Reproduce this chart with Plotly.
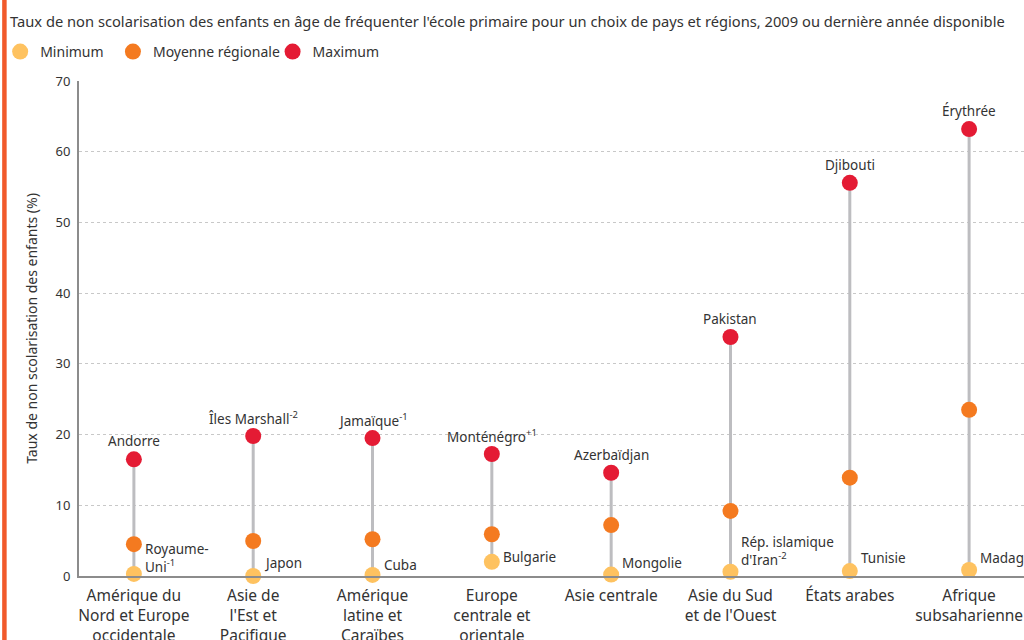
import plotly.graph_objects as go

categories = [
    "Amérique du<br>Nord et Europe<br>occidentale",
    "Asie de<br>l'Est et<br>Pacifique",
    "Amérique<br>latine et<br>Caraïbes",
    "Europe<br>centrale et<br>orientale",
    "Asie centrale",
    "Asie du Sud<br>et de l'Ouest",
    "États arabes",
    "Afrique<br>subsaharienne",
]
minimum = [0.3, 0.0, 0.15, 2.0, 0.2, 0.6, 0.7, 0.85]
moyenne = [4.5, 4.95, 5.2, 5.9, 7.2, 9.2, 13.9, 23.5]
maximum = [16.5, 19.8, 19.5, 17.25, 14.6, 33.8, 55.6, 63.2]
max_labels = ["Andorre", "Îles Marshall<sup>-2</sup>", "Jamaïque<sup>-1</sup>",
              "Monténégro<sup>+1</sup>", "Azerbaïdjan", "Pakistan", "Djibouti", "Érythrée"]
min_labels = ["Royaume-<br>Uni<sup>-1</sup>", "Japon", "Cuba", "Bulgarie", "Mongolie",
              "Rép. islamique<br>d'Iran<sup>-2</sup>", "Tunisie", "Madagascar"]
y_ticks = [0, 10, 20, 30, 40, 50, 60, 70]

FONT = "Noto Sans"
TXT = "#333333"
C_MIN = "#FEC260"
C_MEAN = "#F47A20"
C_MAX = "#E41B34"

W, H = 1024, 640
ML, MR, MT, MB = 77, 0, 81, 64
PW = W - ML - MR
PH = H - MT - MB

# pixel offsets of the minimum labels (layout only)
min_label_dy = [16, 13, 10, 5, 12, 21, 13, 12]
# legend left positions in pixels (layout only)
legend_px = [-2, 111, 271]

fig = go.Figure()

# connecting stems
lx, ly = [], []
for c, lo, hi in zip(categories, minimum, maximum):
    lx += [c, c, None]
    ly += [lo, hi, None]
fig.add_trace(go.Scatter(x=lx, y=ly, mode="lines", line=dict(color="#BDBDC0", width=3),
                         showlegend=False, hoverinfo="skip", cliponaxis=False))

series = [("Minimum", minimum, C_MIN), ("Moyenne régionale", moyenne, C_MEAN),
          ("Maximum", maximum, C_MAX)]
for i, (name, vals, col) in enumerate(series):
    fig.add_trace(go.Scatter(x=categories, y=vals, mode="markers", name=name,
                             legend="legend" if i == 0 else f"legend{i + 1}",
                             marker=dict(color=col, size=16, line=dict(width=0)),
                             cliponaxis=False))

# labels above maxima
for c, v, t in zip(categories, maximum, max_labels):
    fig.add_annotation(x=c, y=v, text=t, showarrow=False, xanchor="center", yanchor="middle",
                       yshift=18, font=dict(family=FONT, size=13.5, color=TXT))
# labels to the right of minima
for c, v, t, dy in zip(categories, minimum, min_labels, min_label_dy):
    fig.add_annotation(x=c, y=v, text=t, showarrow=False, xanchor="left", yanchor="middle",
                       align="left", xshift=9, yshift=dy,
                       font=dict(family=FONT, size=13.5, color=TXT))

# orange strip on the left edge
fig.add_shape(type="rect", xref="paper", yref="paper",
              x0=-ML / PW, x1=-(ML - 4.5) / PW, y0=-MB / PH - 0.01, y1=1 + MT / PH + 0.01,
              fillcolor="#F15A2B", line=dict(width=0), layer="above")

legend_common = dict(orientation="h", xanchor="left", y=1 + (MT - 52) / PH, yanchor="middle",
                     font=dict(family=FONT, size=14, color=TXT),
                     bgcolor="rgba(0,0,0,0)", itemclick=False, itemdoubleclick=False)

fig.update_layout(
    width=W, height=H,
    margin=dict(l=ML, r=MR, t=MT, b=MB, pad=0),
    paper_bgcolor="white", plot_bgcolor="white",
    font=dict(family=FONT, size=13, color=TXT),
    title=dict(text="Taux de non scolarisation des enfants en âge de fréquenter l'école primaire pour un choix de pays et régions, 2009 ou dernière année disponible",
               x=10 / W, xref="container", xanchor="left", y=1 - 22 / H, yref="container",
               yanchor="middle", font=dict(family=FONT, size=14.7, color=TXT)),
    legend=dict(x=(legend_px[0] - ML) / PW, **legend_common),
    legend2=dict(x=(legend_px[1] - ML) / PW, **legend_common),
    legend3=dict(x=(legend_px[2] - ML) / PW, **legend_common),
    showlegend=True,
    xaxis=dict(type="category", range=[-0.46, 7.46], showgrid=False, zeroline=False,
               showline=True, linecolor="#8C8C8C", linewidth=2, ticks="outside", ticklen=4,
               tickcolor="rgba(0,0,0,0)",
               tickfont=dict(family=FONT, size=15.5, color=TXT), automargin=False,
               fixedrange=True),
    yaxis=dict(range=[0, 70], tickvals=y_ticks, showgrid=True, gridcolor="#C8C8C8",
               griddash="dot", gridwidth=1, zeroline=False, showline=True,
               linecolor="#8C8C8C", linewidth=2, ticks="outside", ticklen=4,
               tickcolor="rgba(0,0,0,0)", tickfont=dict(family=FONT, size=13, color=TXT),
               title=dict(text="Taux de non scolarisation des enfants (%)",
                          font=dict(family=FONT, size=14, color=TXT)),
               automargin=False, fixedrange=True),
)

fig.write_html("out.html", config={"displayModeBar": False},
               post_script="document.body.style.margin='0';document.body.style.overflow='hidden';")
